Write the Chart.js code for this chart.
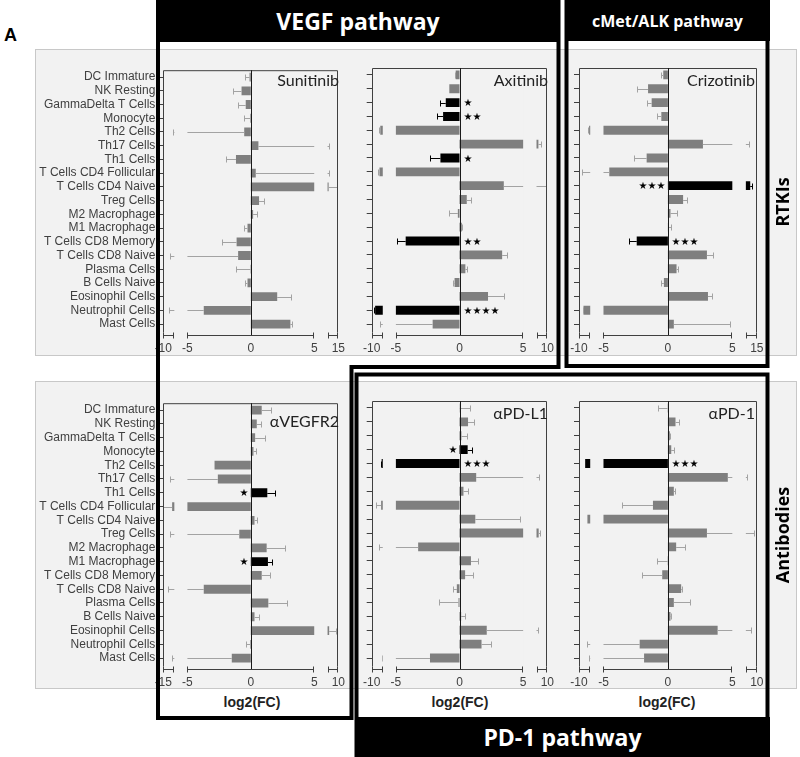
<!DOCTYPE html>
<html>
<head>
<meta charset="utf-8">
<script src="https://cdn.jsdelivr.net/npm/chart.js@4.4.1/dist/chart.umd.min.js"></script>
<style>
  body { margin: 0; width: 800px; height: 757px; position: relative; overflow: hidden; background: #fff; font-family: 'Liberation Sans', Arial, sans-serif; }
  .panel { position: absolute; left: 35px; width: 762px; background: #f2f2f2; border: 1px solid #c8c8c8; box-sizing: border-box; }
  canvas { position: absolute; }
  .hdr { position: absolute; background: #000; color: #fff; font-family: 'Open Sans', sans-serif; font-weight: bold; display: flex; align-items: center; justify-content: center; z-index: 4; }
  .title { position: absolute; font-family: Lato, sans-serif; font-size: 16px; color: #222; line-height: 18px; z-index: 2; }
  .xlab { position: absolute; width: 100px; text-align: center; font-weight: bold; font-size: 14px; color: #222; z-index: 2; }
  .side { position: absolute; font-family: 'Open Sans', sans-serif; font-weight: bold; font-size: 18px; color: #000; transform: translate(-50%, -50%) rotate(-90deg); white-space: nowrap; }
</style>
</head>
<body>
<div style="position:absolute;left:4px;top:25px;font-weight:bold;font-size:18px;">A</div>
<div class="panel" style="top:49px;height:307px;"></div>
<div class="panel" style="top:381px;height:308px;"></div>

<canvas id="c-sunitinib"></canvas>
<canvas id="c-axitinib"></canvas>
<canvas id="c-crizotinib"></canvas>
<canvas id="c-avegfr2"></canvas>
<canvas id="c-apdl1"></canvas>
<canvas id="c-apd1"></canvas>

<div class="title" style="right:461px;top:71px;">Sunitinib</div>
<div class="title" style="right:252px;top:71px;">Axitinib</div>
<div class="title" style="right:45px;top:71px;">Crizotinib</div>
<div class="title" style="right:461px;top:412px;">αVEGFR2</div>
<div class="title" style="right:252px;top:404px;">αPD-L1</div>
<div class="title" style="right:45px;top:404px;">αPD-1</div>

<div class="xlab" style="left:202px;top:694px;">log2(FC)</div>
<div class="xlab" style="left:410px;top:694px;">log2(FC)</div>
<div class="xlab" style="left:617px;top:694px;">log2(FC)</div>

<div class="side" style="left:782px;top:202px;">RTKIs</div>
<div class="side" style="left:782px;top:535px;">Antibodies</div>

<svg width="800" height="757" style="position:absolute;left:0;top:0;z-index:3;">
  <path d="M158,0 V718 H351.5 V367 H558.5 V0" fill="none" stroke="#000" stroke-width="4"/>
  <path d="M566.5,0 V366 H767.5 V0" fill="none" stroke="#000" stroke-width="4"/>
  <path d="M356.5,757 V374.5 H767.5 V757" fill="none" stroke="#000" stroke-width="4"/>
</svg>
<div class="hdr" style="left:156px;top:0;width:404px;height:42px;font-size:23px;">VEGF pathway</div>
<div class="hdr" style="left:565px;top:0;width:205px;height:41px;font-size:16px;">cMet/ALK pathway</div>
<div class="hdr" style="left:355px;top:717px;width:415px;height:40px;font-size:23px;">PD-1 pathway</div>

<script>
const cellTypes = ['DC Immature', 'NK Resting', 'GammaDelta T Cells', 'Monocyte', 'Th2 Cells', 'Th17 Cells',
  'Th1 Cells', 'T Cells CD4 Follicular', 'T Cells CD4 Naive', 'Treg Cells', 'M2 Macrophage', 'M1 Macrophage',
  'T Cells CD8 Memory', 'T Cells CD8 Naive', 'Plasma Cells', 'B Cells Naive', 'Eosinophil Cells',
  'Neutrophil Cells', 'Mast Cells'];

// log2(FC), one-sided error, significance; axis end labels of the broken scale
const sunitinibFC  = [-0.1, -0.73, -0.4, -0.05, -0.52, 0.6, -1.17, 0.39, 13.2, 0.65, 0.18, -0.26, -1.12, -1.0, -0.03, -0.26, 2.08, -3.71, 3.12];
const sunitinibErr = [0.35, 0.7, 0.6, 0.45, 7.8, 12.7, 0.78, 12.9, 1.6, 0.4, 0.34, 0.26, 1.17, 7.8, 1.1, 0.2, 1.06, 5.27, 0.1];
const sunitinibSig = ['', '', '', '', '', '', '', '', '', '', '', '', '', '', '', '', '', '', ''];
const sunitinibEnds = [-10, 15];

const axitinibFC  = [-0.3, -0.8, -1.08, -1.29, -8.45, 8.35, -1.5, -8.6, 3.48, 0.57, -0.13, 0.18, -4.23, 3.35, 0.46, -0.39, 2.24, -9.38, -2.11];
const axitinibErr = [0.05, 0.05, 0.42, 0.5, 0.15, 0.5, 0.82, 0.2, 6.3, 0.3, 0.72, 0.05, 0.72, 0.39, 0.1, 0.1, 1.29, 0.15, 6.4];
const axitinibSig = ['', '', '*', '**', '', '', '*', '', '', '', '', '', '**', '', '', '', '', '****', ''];
const axitinibEnds = [-10, 10];

const crizotinibFC  = [-0.36, -1.54, -1.26, -0.51, -8.2, 2.72, -1.65, -4.55, 13.8, 1.18, 0.2, 0.05, -2.42, 3.03, 0.67, -0.31, 3.11, -9.2, 0.46];
const crizotinibErr = [0.15, 0.83, 0.4, 0.36, 0.15, 10.9, 0.97, 4.95, 0.4, 0.3, 0.47, 0.21, 0.6, 0.47, 0.1, 0.2, 0.31, 0.1, 4.37];
const crizotinibSig = ['', '', '', '', '', '', '', '', '***', '', '', '', '***', '', '', '', '', '', ''];
const crizotinibEnds = [-10, 15];

const aVegfr2FC  = [0.86, 0.47, 0.34, 0.21, -2.86, -2.6, 1.3, -13.4, 0.29, -0.91, 1.25, 1.35, 0.86, -3.71, 1.38, 0.29, 8.3, -0.05, -1.5];
const aVegfr2Err = [0.7, 0.36, 0.78, 0.18, 0, 11.2, 0.6, 1.6, 0.18, 12.9, 1.43, 0.34, 0.62, 10.4, 1.48, 0.36, 1.3, 0.34, 12];
const aVegfr2Sig = ['', '', '', '', '', '', '*', '', '', '', '', '*', '', '', '', '', '', '', ''];
const aVegfr2Ends = [-15, 10];

const aPdl1FC  = [0.02, 0.67, 0.15, 0.64, -8.2, 1.31, 0.31, -8.3, 1.24, 8.4, -3.25, 0.9, 0.44, -0.21, -0.08, 0.13, 2.14, 1.73, -2.32];
const aPdl1Err = [0.8, 0.43, 0.44, 0.34, 0.1, 7.2, 0.33, 1.0, 3.48, 0.3, 5.45, 0.52, 0.59, 0.31, 1.54, 0.33, 6.2, 0.77, 5.8];
const aPdl1Sig = ['', '', '', '*', '***', '', '', '', '', '', '', '', '', '', '', '', '', '', ''];
const aPdl1Ends = [-10, 10];

const aPd1FC  = [-0.02, 0.59, 0.15, 0.26, -8.9, 4.65, 0.46, -1.16, -8.5, 3.03, 0.64, -0.02, -0.44, 1.03, 0.46, 0.2, 3.86, -2.19, -1.85];
const aPd1Err = [0.75, 0.26, 0.05, 0.25, 0, 3.65, 0.1, 2.41, 0, 6.47, 0.67, 0.85, 1.59, 0.07, 1.24, 0.05, 5.04, 6.41, 6.45];
const aPd1Sig = ['', '', '', '', '***', '', '', '', '', '', '', '', '', '', '', '', '', '', ''];
const aPd1Ends = [-10, 10];

// broken axis: centre -5..5 is linear, outer pieces show the last 2 units up to the end label
const IN_L = -6.03, IN_R = 6.05, EDGE = 6.9, SPAN = 2;
const PANEL_BG = '#f2f2f2';

function toDisplay(v, ends) {
  const [lo, hi] = ends;
  if (v > 5) {
    if (v <= hi - SPAN) return 5 + (v - 5) / (hi - SPAN - 5) * (IN_R - 5);
    return Math.min(EDGE, IN_R + (v - (hi - SPAN)) / SPAN * (EDGE - IN_R));
  }
  if (v < -5) {
    if (v >= lo + SPAN) return -5 - (-5 - v) / (-5 - (lo + SPAN)) * (-5 - IN_L);
    return Math.max(-EDGE, IN_L - ((lo + SPAN) - v) / SPAN * (IN_L + EDGE));
  }
  return v;
}

const panelDecor = {
  id: 'panelDecor',
  afterDatasetsDraw(chart, args, o) {
    const { ctx, chartArea: a, scales: { x, y } } = chart;
    const px = v => x.getPixelForValue(v);
    ctx.save();
    ctx.lineWidth = 1;

    // error bars, drawn outward from the bar end
    o.vals.forEach((v, i) => {
      if (!o.errs[i]) return;
      const dir = v < 0 ? -1 : 1;
      const x1 = px(toDisplay(v, o.ends));
      const x2 = Math.round(px(toDisplay(v + dir * o.errs[i], o.ends))) + 0.5;
      const yy = Math.round(y.getPixelForValue(i)) + 0.5;
      ctx.strokeStyle = o.sig[i] ? '#000' : '#a3a3a3';
      ctx.beginPath();
      ctx.moveTo(x1, yy); ctx.lineTo(x2, yy);
      ctx.moveTo(x2, yy - 3); ctx.lineTo(x2, yy + 3);
      ctx.stroke();
    });

    // hide the axis breaks
    ctx.fillStyle = PANEL_BG;
    const l1 = px(IN_L), l2 = px(-5), r1 = px(5), r2 = px(IN_R);
    ctx.fillRect(l1, a.top + 1, l2 - l1, a.bottom - a.top + 6);
    ctx.fillRect(r1, a.top + 1, r2 - r1, a.bottom - a.top + 6);

    const yAx = Math.round(a.bottom) + 4.5;
    const left = Math.round(a.left) + 0.5, right = Math.round(a.right) - 0.5;
    const x0 = Math.round(px(0)) + 0.5;

    ctx.strokeStyle = '#404040';
    ctx.beginPath();
    ctx.moveTo(left, yAx - 3); ctx.lineTo(left, a.top + 0.5); ctx.lineTo(right, a.top + 0.5); ctx.lineTo(right, yAx - 3);
    ctx.stroke();

    ctx.strokeStyle = '#1a1a1a';
    ctx.beginPath();
    ctx.moveTo(x0, a.top); ctx.lineTo(x0, yAx);
    ctx.stroke();

    // broken x axis line with end caps
    ctx.strokeStyle = '#404040';
    [[-EDGE, IN_L], [-5, 5], [IN_R, EDGE]].forEach(([s, e]) => {
      const xs = Math.round(px(s)) + 0.5, xe = Math.round(px(e)) - 0.5;
      ctx.beginPath();
      ctx.moveTo(xs, yAx); ctx.lineTo(xe, yAx);
      ctx.moveTo(xs, yAx - 3); ctx.lineTo(xs, yAx + 3);
      ctx.moveTo(xe, yAx - 3); ctx.lineTo(xe, yAx + 3);
      ctx.stroke();
    });

    // significance stars next to the zero line, opposite side of the bar
    ctx.fillStyle = '#000';
    ctx.font = '10px "DejaVu Sans"';
    ctx.textBaseline = 'middle';
    o.sig.forEach((s, i) => {
      if (!s) return;
      const stars = '★'.repeat(s.length);
      const yy = y.getPixelForValue(i) + 1;
      if (o.vals[i] < 0) { ctx.textAlign = 'left'; ctx.fillText(stars, x0 + 3, yy); }
      else { ctx.textAlign = 'right'; ctx.fillText(stars, x0 - 3, yy); }
    });
    ctx.restore();
  }
};

function makePanel(id, box, vals, errs, sig, ends, showLabels) {
  const cv = document.getElementById(id);
  cv.width = box.w; cv.height = box.h;
  cv.style.left = box.x + 'px'; cv.style.top = box.y + 'px';
  const endTicks = { '-6.9': String(ends[0]), '-5': '-5', '0': '0', '5': '5', '6.9': String(ends[1]) };

  new Chart(cv, {
    type: 'bar',
    data: {
      labels: cellTypes,
      datasets: [{
        data: vals.map(v => toDisplay(v, ends)),
        backgroundColor: sig.map(s => s ? '#000000' : '#7f7f7f'),
        barPercentage: 0.64,
        categoryPercentage: 1
      }]
    },
    options: {
      indexAxis: 'y',
      responsive: false,
      animation: false,
      layout: { padding: { top: box.areaTop - box.y, right: box.x + box.w - box.areaRight, left: 0, bottom: 0 } },
      plugins: {
        legend: { display: false },
        tooltip: { enabled: false },
        panelDecor: { vals, errs, sig, ends }
      },
      scales: {
        x: {
          type: 'linear',
          min: -EDGE, max: EDGE,
          grid: { display: false, drawTicks: false },
          border: { display: false },
          afterBuildTicks: s => { s.ticks = [-EDGE, -5, 0, 5, EDGE].map(v => ({ value: v })); },
          afterFit: s => { s.height = box.y + box.h - box.areaBottom; },
          ticks: {
            autoSkip: false, maxRotation: 0, padding: 10, color: '#404040',
            font: { family: 'Liberation Sans', size: 12 },
            callback: v => endTicks[String(Math.round(v * 10) / 10)]
          }
        },
        y: {
          grid: { display: true, drawOnChartArea: false, offset: false, drawTicks: true, tickLength: 5, color: '#404040' },
          border: { display: false },
          afterFit: s => { s.width = box.areaLeft - box.x; },
          ticks: {
            display: showLabels, autoSkip: false, padding: 3, color: '#404040',
            font: { family: 'Liberation Sans', size: 12 }
          }
        }
      }
    },
    plugins: [panelDecor]
  });
}

const topRow = { y: 60, h: 300, areaTop: 68, areaBottom: 331 };
const botRow = { y: 393, h: 300, areaTop: 401, areaBottom: 665 };
const cols = [
  { x: 30, w: 325, areaLeft: 163.3, areaRight: 340.7 },
  { x: 352, w: 212, areaLeft: 371.7, areaRight: 549.3 },
  { x: 560, w: 215, areaLeft: 579, areaRight: 756.8 }
];
const at = (c, r) => Object.assign({}, c, r);

makePanel('c-sunitinib', at(cols[0], topRow), sunitinibFC, sunitinibErr, sunitinibSig, sunitinibEnds, true);
makePanel('c-axitinib', at(cols[1], topRow), axitinibFC, axitinibErr, axitinibSig, axitinibEnds, false);
makePanel('c-crizotinib', at(cols[2], topRow), crizotinibFC, crizotinibErr, crizotinibSig, crizotinibEnds, false);
makePanel('c-avegfr2', at(cols[0], botRow), aVegfr2FC, aVegfr2Err, aVegfr2Sig, aVegfr2Ends, true);
makePanel('c-apdl1', at(cols[1], botRow), aPdl1FC, aPdl1Err, aPdl1Sig, aPdl1Ends, false);
makePanel('c-apd1', at(cols[2], botRow), aPd1FC, aPd1Err, aPd1Sig, aPd1Ends, false);
</script>
</body>
</html>
